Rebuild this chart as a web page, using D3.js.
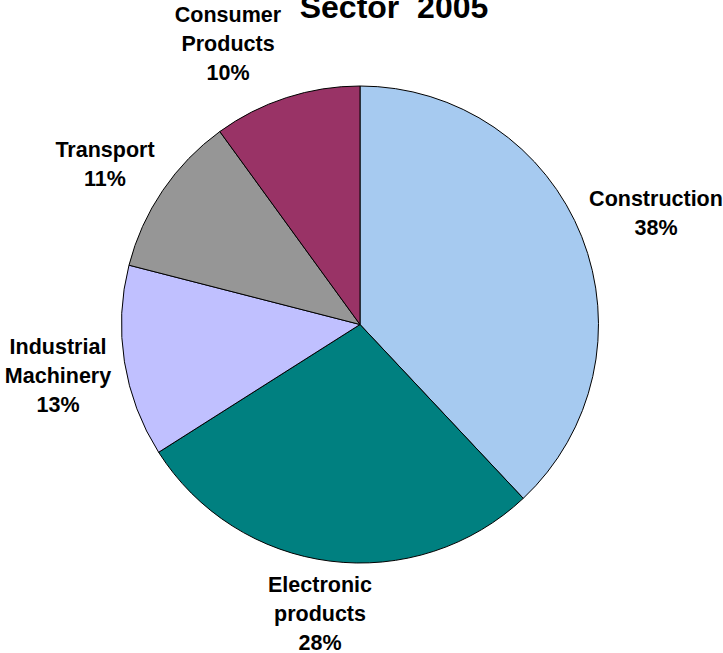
<!DOCTYPE html>
<html>
<head>
<meta charset="utf-8">
<script src="https://cdn.jsdelivr.net/npm/d3@7"></script>
<style>
  html, body { margin: 0; padding: 0; background: #fff; }
  svg { display: block; }
  text { font-family: "Liberation Sans", Arial, sans-serif; font-weight: bold; fill: #000; }
</style>
</head>
<body>
<svg id="chart" width="723" height="653"></svg>
<script>
const titleText = "Sector  2005";
const categories = ["Construction", "Electronic products", "Industrial Machinery", "Transport", "Consumer Products"];
const values = [38, 28, 13, 11, 10];
const labelLines = [
  ["Construction", "38%"],
  ["Electronic", "products", "28%"],
  ["Industrial", "Machinery", "13%"],
  ["Transport", "11%"],
  ["Consumer", "Products", "10%"]
];
const colors = ["#A6CAF0", "#008080", "#C0C0FF", "#969696", "#993366"];

const svg = d3.select("#chart");
const cx = 360, cy = 324.5, r = 238.5;

const pie = d3.pie().sort(null).value(d => d)(values);
const arc = d3.arc().innerRadius(0).outerRadius(r);

const g = svg.append("g").attr("transform", `translate(${cx},${cy})`);
g.selectAll("path").data(pie).enter().append("path")
  .attr("d", arc)
  .attr("fill", (d, i) => colors[i])
  .attr("stroke", "#000")
  .attr("stroke-width", 1);

// Title (partially cut off at top)
svg.append("text")
  .attr("x", 394).attr("y", 18)
  .attr("text-anchor", "middle")
  .attr("font-size", 32)
  .style("white-space", "pre")
  .text(titleText);

// Label anchor positions (center x, first baseline y)
const labelPos = [
  [656, 206],
  [320, 592],
  [58, 354],
  [105, 157],
  [228, 22]
];
const lineH = 29;
labelLines.forEach((lines, i) => {
  const t = svg.append("text")
    .attr("text-anchor", "middle")
    .attr("font-size", 21.5);
  lines.forEach((ln, j) => {
    t.append("tspan")
      .attr("x", labelPos[i][0])
      .attr("y", labelPos[i][1] + j * lineH)
      .text(ln);
  });
});
</script>
</body>
</html>
